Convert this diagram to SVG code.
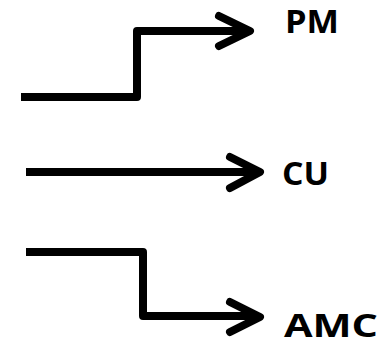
<svg xmlns="http://www.w3.org/2000/svg" width="386" height="345" viewBox="0 0 386 345">
<style>
.c{fill:none;stroke:#000;stroke-width:8;stroke-linejoin:round}
.h{fill:none;stroke:#000;stroke-width:8;stroke-linecap:round;stroke-linejoin:round}
.t{font-family:"Open Sans","Liberation Sans",sans-serif;font-weight:bold;font-size:32px;fill:#000}
</style>
<rect width="386" height="345" fill="#fff"/>
<g id="connectors">
<path class="c" d="M21 97 H137 V31 H248"/>
<path class="h" d="M219 16 L250 31 L219 46"/>
<path class="c" d="M26 172 H258"/>
<path class="h" d="M230 157 L260 172 L230 188"/>
<path class="c" d="M26 252 H143 V316 H258"/>
<path class="h" d="M230 302 L260 317 L230 332"/>
</g>
<g id="PM"><text class="t" x="285" y="33" textLength="54" lengthAdjust="spacingAndGlyphs">PM</text></g>
<g id="CU"><text class="t" x="282" y="185" textLength="47" lengthAdjust="spacingAndGlyphs">CU</text></g>
<g id="AMC"><text class="t" x="284" y="336.5" textLength="94" lengthAdjust="spacingAndGlyphs">AMC</text></g>
</svg>
